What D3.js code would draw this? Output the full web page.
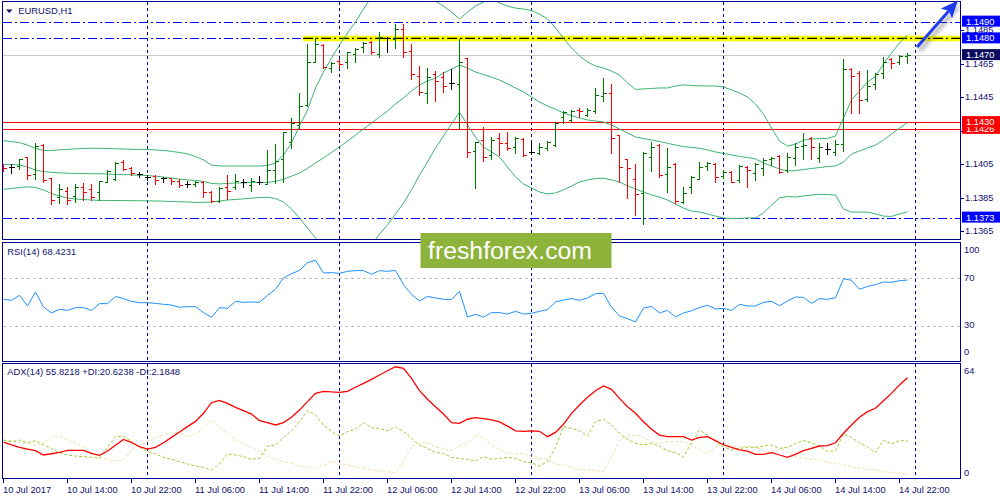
<!DOCTYPE html>
<html><head><meta charset="utf-8">
<script src="https://cdn.jsdelivr.net/npm/d3@7"></script>
<style>
body{margin:0;background:#fff}
svg text{font-family:"Liberation Sans",Arial,sans-serif}
</style>
</head><body>
<svg id="c" width="1000" height="500"></svg>
<script>
// ---------- DATA (EURUSD H1, first bar 10 Jul 2017 06:00) ----------
const symbol = "EURUSD,H1";
const firstBarHour = 6;
const open = [1.14047,1.14030,1.14038,1.14089,1.13990,1.14163,1.13965,1.13851,1.13889,1.13859,
1.13911,1.13901,1.13885,1.13944,1.13959,1.14064,1.14024,1.13990,1.13971,1.13980,
1.13966,1.13965,1.13950,1.13931,1.13929,1.13944,1.13885,1.13829,1.13911,1.13911,
1.13941,1.13925,1.13944,1.13931,1.14014,1.14078,1.14180,1.14283,1.14402,1.14661,
1.14760,1.14625,1.14665,1.14657,1.14705,1.14750,1.14780,1.14705,1.14804,1.14796,
1.14856,1.14725,1.14577,1.14476,1.14585,1.14571,1.14532,1.14528,1.14681,1.14128,
1.14193,1.14104,1.14203,1.14177,1.14150,1.14199,1.14123,1.14114,1.14144,1.14161,
1.14332,1.14313,1.14372,1.14342,1.14366,1.14456,1.14472,1.14223,1.14078,1.13959,
1.13879,1.14090,1.14163,1.13990,1.14050,1.13825,1.13911,1.13962,1.14038,1.14048,
1.13978,1.14004,1.13955,1.14034,1.13998,1.14024,1.14080,1.14100,1.14014,1.14084,
1.14157,1.14203,1.14084,1.14138,1.14122,1.14169,1.14615,1.14592,1.14436,1.14526,
1.14592,1.14675,1.14661,1.14692];
const high = [1.14050,1.14048,1.14082,1.14090,1.14173,1.14167,1.13968,1.13931,1.13911,1.13931,
1.13935,1.13931,1.13951,1.14014,1.14060,1.14074,1.14030,1.14000,1.13985,1.13985,
1.13971,1.13968,1.13959,1.13949,1.13949,1.13950,1.13891,1.13911,1.13985,1.13990,
1.13959,1.13965,1.13980,1.14134,1.14168,1.14243,1.14323,1.14472,1.14764,1.14800,
1.14764,1.14657,1.14675,1.14720,1.14741,1.14780,1.14784,1.14836,1.14810,1.14884,
1.14884,1.14764,1.14637,1.14625,1.14605,1.14601,1.14617,1.14795,1.14685,1.14183,
1.14269,1.14209,1.14237,1.14243,1.14209,1.14203,1.14193,1.14177,1.14189,1.14303,
1.14366,1.14372,1.14382,1.14382,1.14502,1.14561,1.14528,1.14223,1.14078,1.14050,
1.14123,1.14183,1.14169,1.14144,1.14054,1.13911,1.13978,1.14060,1.14064,1.14054,
1.14014,1.14010,1.14044,1.14038,1.14058,1.14084,1.14094,1.14104,1.14118,1.14174,
1.14237,1.14209,1.14174,1.14174,1.14193,1.14675,1.14621,1.14607,1.14611,1.14592,
1.14691,1.14681,1.14701,1.14714];
const low = [1.14008,1.13998,1.14018,1.13959,1.13959,1.13944,1.13809,1.13819,1.13809,1.13825,
1.13835,1.13835,1.13835,1.13941,1.13955,1.14014,1.13985,1.13970,1.13955,1.13931,
1.13944,1.13931,1.13911,1.13915,1.13920,1.13855,1.13821,1.13825,1.13840,1.13899,
1.13911,1.13889,1.13929,1.13929,1.13935,1.13944,1.14144,1.14263,1.14398,1.14657,
1.14625,1.14601,1.14621,1.14621,1.14661,1.14717,1.14705,1.14691,1.14720,1.14744,
1.14691,1.14557,1.14462,1.14412,1.14426,1.14482,1.14498,1.14263,1.14091,1.13908,
1.14069,1.14078,1.14104,1.14134,1.14118,1.14098,1.14110,1.14108,1.14134,1.14157,
1.14293,1.14309,1.14332,1.14336,1.14356,1.14426,1.14118,1.13944,1.13849,1.13746,
1.13692,1.14010,1.13971,1.13885,1.13819,1.13819,1.13879,1.13959,1.14014,1.13944,
1.13965,1.13941,1.13944,1.13911,1.13955,1.13985,1.14044,1.13998,1.14004,1.14044,
1.14078,1.14078,1.14064,1.14110,1.14104,1.14129,1.14353,1.14353,1.14428,1.14496,
1.14562,1.14621,1.14647,1.14655];
const close = [1.14026,1.14030,1.14080,1.13985,1.14157,1.13955,1.13835,1.13901,1.13835,1.13911,
1.13885,1.13851,1.13949,1.14008,1.14054,1.14018,1.13994,1.13990,1.13971,1.13955,
1.13966,1.13949,1.13925,1.13931,1.13944,1.13885,1.13829,1.13905,1.13889,1.13949,
1.13941,1.13950,1.13944,1.14014,1.14070,1.14243,1.14293,1.14398,1.14661,1.14764,
1.14631,1.14655,1.14645,1.14717,1.14735,1.14771,1.14717,1.14810,1.14804,1.14856,
1.14717,1.14585,1.14482,1.14571,1.14546,1.14517,1.14532,1.14659,1.14123,1.14183,
1.14092,1.14193,1.14177,1.14144,1.14203,1.14104,1.14123,1.14150,1.14183,1.14297,
1.14358,1.14368,1.14366,1.14372,1.14462,1.14474,1.14203,1.14030,1.14024,1.13871,
1.14114,1.14150,1.13985,1.14030,1.13829,1.13879,1.13971,1.14030,1.14058,1.13974,
1.14002,1.13944,1.14040,1.14014,1.14050,1.14074,1.14088,1.14004,1.14094,1.14150,
1.14163,1.14150,1.14150,1.14138,1.14170,1.14615,1.14575,1.14432,1.14516,1.14587,
1.14661,1.14655,1.14695,1.14700];

// Bollinger Bands
const bbUpper = [1.14189,1.14184,1.14178,1.14163,1.14143,1.14131,1.14131,1.14134,1.14137,1.14140,
1.14143,1.14144,1.14144,1.14143,1.14141,1.14140,1.14138,1.14137,1.14137,1.14134,
1.14131,1.14125,1.14119,1.14110,1.14095,1.14074,1.14044,1.14038,1.14038,1.14038,
1.14038,1.14038,1.14038,1.14041,1.14056,1.14104,1.14175,1.14277,1.14372,1.14504,
1.14599,1.14683,1.14760,1.14832,1.14898,1.14975,1.15047,1.15029,1.15047,1.15065,
1.15071,1.15077,1.15059,1.15041,1.15023,1.14993,1.14957,1.14916,1.14957,1.14993,
1.15017,1.15041,1.15011,1.14993,1.14981,1.14975,1.14966,1.14945,1.14916,1.14862,
1.14802,1.14743,1.14695,1.14659,1.14635,1.14623,1.14605,1.14581,1.14534,1.14495,
1.14498,1.14501,1.14504,1.14504,1.14516,1.14522,1.14519,1.14516,1.14516,1.14516,
1.14510,1.14492,1.14474,1.14450,1.14408,1.14348,1.14265,1.14187,1.14157,1.14169,
1.14193,1.14199,1.14202,1.14203,1.14217,1.14325,1.14432,1.14486,1.14539,1.14575,
1.14647,1.14713,1.14772,1.14820];
const bbMiddle = [1.14048,1.14047,1.14044,1.14032,1.14014,1.14005,1.14000,1.13997,1.13995,1.13994,
1.13993,1.13992,1.13992,1.13990,1.13988,1.13987,1.13985,1.13983,1.13981,1.13977,
1.13972,1.13966,1.13960,1.13955,1.13952,1.13946,1.13934,1.13931,1.13934,1.13937,
1.13937,1.13940,1.13940,1.13940,1.13946,1.13958,1.13978,1.13996,1.14024,1.14056,
1.14086,1.14119,1.14152,1.14187,1.14223,1.14259,1.14295,1.14331,1.14366,1.14408,
1.14444,1.14486,1.14522,1.14546,1.14563,1.14593,1.14617,1.14641,1.14623,1.14599,
1.14584,1.14569,1.14551,1.14528,1.14504,1.14480,1.14450,1.14420,1.14396,1.14378,
1.14354,1.14339,1.14325,1.14313,1.14307,1.14301,1.14283,1.14259,1.14235,1.14211,
1.14202,1.14193,1.14184,1.14174,1.14163,1.14154,1.14149,1.14144,1.14134,1.14122,
1.14113,1.14104,1.14095,1.14089,1.14080,1.14056,1.14038,1.14020,1.14008,1.14011,
1.14017,1.14023,1.14029,1.14035,1.14038,1.14062,1.14110,1.14128,1.14146,1.14163,
1.14193,1.14229,1.14265,1.14297];
const bbLower = [1.13899,1.13904,1.13910,1.13914,1.13910,1.13895,1.13874,1.13859,1.13847,1.13841,
1.13838,1.13835,1.13833,1.13832,1.13832,1.13832,1.13831,1.13831,1.13830,1.13829,
1.13828,1.13826,1.13825,1.13823,1.13821,1.13821,1.13823,1.13829,1.13835,1.13838,
1.13842,1.13846,1.13850,1.13851,1.13844,1.13823,1.13781,1.13728,1.13668,1.13608,
1.13572,1.13554,1.13542,1.13542,1.13548,1.13542,1.13566,1.13632,1.13686,1.13752,
1.13817,1.13895,1.13984,1.14062,1.14146,1.14217,1.14289,1.14360,1.14283,1.14211,
1.14152,1.14122,1.14092,1.14032,1.13973,1.13931,1.13907,1.13883,1.13871,1.13877,
1.13895,1.13919,1.13943,1.13955,1.13963,1.13965,1.13955,1.13943,1.13919,1.13901,
1.13883,1.13865,1.13853,1.13835,1.13811,1.13787,1.13769,1.13763,1.13752,1.13739,
1.13728,1.13725,1.13725,1.13728,1.13728,1.13758,1.13805,1.13847,1.13856,1.13853,
1.13859,1.13865,1.13868,1.13868,1.13865,1.13781,1.13763,1.13763,1.13763,1.13752,
1.13739,1.13737,1.13752,1.13765];

const rsi = [52.1,51.3,55.5,46.5,58.3,45.6,40.6,43.7,42.8,45.1,
45.1,42.8,48.5,48.5,54.6,52.7,50.4,49.3,49.3,48.7,
47.9,47.3,45.4,45.9,45.9,40.9,36.9,45.1,44.5,50.4,
49.6,49.9,49.6,55.5,60.6,70.2,73.8,76.6,83.1,85.1,
74.4,74.7,74.1,75.8,76.4,76.4,73.3,76.4,75.8,76.6,
64.5,56.4,50.7,54.6,53.3,52.1,52.1,58.9,37.2,39.4,
37.2,40.9,40.9,39.7,42.0,39.7,40.3,42.0,43.4,49.9,
51.6,52.7,51.3,53.3,56.9,57.2,45.4,38.0,35.8,33.0,
44.8,46.2,40.6,42.8,37.2,40.6,42.5,45.1,47.1,44.0,
44.5,42.8,47.9,46.5,46.5,49.6,50.4,46.8,50.7,54.1,
53.8,48.7,52.7,52.1,53.5,69.6,68.2,60.6,63.1,64.5,
66.8,66.5,67.9,68.4231];
const rsiLevels = [70, 30];
const rsiAxis = [100, 70, 30, 0];

const adx = [20.0,18.4,17.1,16.1,15.2,12.8,13.5,14.3,15.4,15.4,
15.4,13.7,12.6,15.0,18.2,21.5,19.8,17.4,16.1,17.1,
19.6,22.6,25.6,28.6,31.5,36.0,41.9,43.2,41.5,39.3,
37.5,35.6,31.9,30.8,29.5,30.8,33.8,37.8,42.5,47.1,
48.2,47.9,47.7,48.2,50.5,52.7,54.9,57.3,59.7,61.9,
61.0,55.5,48.6,43.8,39.7,35.6,30.8,30.4,32.7,33.6,
33.0,32.3,31.2,28.9,26.2,26.0,26.2,26.0,23.0,25.4,
29.9,36.0,40.6,44.9,48.6,51.2,49.3,44.3,39.7,36.0,
31.3,27.1,23.9,23.0,23.0,23.0,21.1,22.6,23.0,20.8,
18.5,17.1,15.6,15.0,13.2,13.2,14.1,12.8,11.5,13.2,
15.2,16.5,17.8,18.0,19.6,24.9,29.5,33.8,36.9,38.8,
43.0,47.1,51.8,55.8218];
const plusDI = [21.1,20.2,21.1,19.6,20.8,18.4,16.5,14.1,12.8,12.2,
11.9,11.5,10.9,17.1,23.0,23.4,20.2,17.1,14.7,13.4,
11.5,10.4,9.1,7.8,6.7,5.9,4.5,7.8,13.4,12.8,
11.9,10.4,10.9,17.8,18.4,22.6,26.3,31.3,37.5,35.1,
29.5,25.8,23.4,25.8,27.1,30.8,28.0,27.6,26.2,28.6,
25.8,22.1,18.4,16.5,14.1,13.7,11.5,10.9,10.4,9.5,
11.9,10.4,10.9,11.5,10.9,9.1,8.5,6.7,9.1,17.1,
28.6,27.6,26.3,23.4,31.3,32.7,29.5,24.9,21.5,19.3,
18.4,19.3,17.8,15.2,14.1,11.9,19.6,26.7,23.9,20.2,
17.4,15.6,16.5,17.1,17.1,17.8,18.4,16.5,17.1,19.3,
20.8,19.6,17.8,14.7,15.2,24.5,22.6,19.6,17.1,14.1,
21.1,18.9,20.8,20.6238];
const minusDI = [21.1,20.8,19.6,19.6,17.8,19.3,23.0,23.4,20.8,19.6,
17.1,13.7,11.5,10.4,9.6,10.0,15.6,18.4,20.2,22.6,
23.9,25.2,25.2,22.6,24.5,27.6,32.3,28.6,24.5,21.5,
18.9,17.1,14.7,12.2,10.4,9.1,8.2,6.7,5.9,5.4,
7.2,9.1,8.5,7.2,6.3,5.4,4.5,4.1,3.5,3.0,
9.1,17.4,19.6,19.6,17.1,16.5,15.2,17.8,19.3,23.9,
22.1,18.4,16.0,13.7,13.4,13.7,12.2,10.9,10.4,7.8,
7.2,5.9,4.8,4.5,4.1,3.5,11.9,20.8,23.4,23.9,
22.6,20.2,19.3,20.2,20.2,20.2,18.4,15.6,13.4,17.1,
19.6,17.8,17.4,17.8,17.1,15.2,14.1,16.0,14.7,11.9,
10.9,10.4,10.4,8.5,8.2,7.2,6.3,5.4,4.8,4.5,
3.5,3.0,2.6,2.1848];
const adxAxis = [64, 0];

const timeLabels = ["10 Jul 2017","10 Jul 14:00","10 Jul 22:00","11 Jul 06:00","11 Jul 14:00",
"11 Jul 22:00","12 Jul 06:00","12 Jul 14:00","12 Jul 22:00","13 Jul 06:00","13 Jul 14:00",
"13 Jul 22:00","14 Jul 06:00","14 Jul 14:00","14 Jul 22:00"];
const timeLabelStep = 8;
const priceTicks = [1.1365,1.1385,1.1405,1.1425,1.1445,1.1465,1.1485];
const levelLines = [
  {price:1.1490, color:"#0000ff", dash:"9,3,2,3"},
  {price:1.1480, color:"#0000ff", dash:"9,3,2,3"},
  {price:1.1373, color:"#0000ff", dash:"9,3,2,3"},
  {price:1.1426, color:"#ff0000", dash:null},
  {price:1.1430, color:"#ff0000", dash:null}
];
const highlight = {price:1.1480, fromBar:37.45};
const arrow = {fromBar:114.2, fromPrice:1.14748, toBar:119.1, toPrice:1.15015};
const watermark = "freshforex.com";

// ---------- LAYOUT ----------
const svg = d3.select("#c");
const L = 2.5, R = 960.5;
const P = {main:[1.5,239.5], rsi:[242.5,361.5], adx:[363.5,478.5]};
const navy = "#00008c", txt = "#101070";
const n = close.length;

const x = d3.scaleLinear().domain([0, n-1]).range([3.5, 907.5]);
const yM = d3.scaleLinear().domain([1.135963, 1.150172]).range([240, 2]);
const yR = d3.scaleLinear().domain([0,100]).range([361, 242.7]);
const yA = d3.scaleLinear().domain([0,64]).range([478, 363]);

const defs = svg.append("defs");
Object.entries(P).forEach(([k,[t,b]]) => {
  defs.append("clipPath").attr("id","clip-"+k).append("rect")
    .attr("x",L).attr("y",t).attr("width",R-L).attr("height",b-t);
});
const blur = defs.append("filter").attr("id","blur").attr("x","-20%").attr("y","-200%").attr("width","140%").attr("height","500%");
blur.append("feGaussianBlur").attr("stdDeviation",2);
const mk = defs.append("marker").attr("id","ah").attr("markerUnits","userSpaceOnUse")
  .attr("markerWidth",20).attr("markerHeight",16).attr("refX",15).attr("refY",7.5).attr("orient","auto");
mk.append("path").attr("d","M0,0L17,7.5L0,15L4,7.5Z").attr("fill","#1d3cf2");

// day boundaries for vertical grid
const dayIdx = d3.range(n+1).filter(i => (firstBarHour + i) % 24 === 0);

function panel(k){
  const g = svg.append("g");
  const inner = g.append("g").attr("clip-path","url(#clip-"+k+")");
  const [t,b] = P[k];
  inner.selectAll("line.vg").data(dayIdx).join("line")
    .attr("x1",d=>x(d)).attr("x2",d=>x(d)).attr("y1",t).attr("y2",b)
    .attr("stroke",navy).attr("stroke-width",1).attr("stroke-dasharray","3,3")
    .attr("shape-rendering","crispEdges");
  return {g, inner, t, b};
}

// ---------- MAIN ----------
const M = panel("main");
M.inner.selectAll("line.lv").data(levelLines).join("line")
  .attr("x1",L).attr("x2",R).attr("y1",d=>Math.round(yM(d.price))+0.5).attr("y2",d=>Math.round(yM(d.price))+0.5)
  .attr("stroke",d=>d.color).attr("stroke-width",d=>d.dash?1:1.4)
  .attr("stroke-dasharray",d=>d.dash).attr("shape-rendering","crispEdges");
const bid = close[n-1];
M.inner.append("line").attr("x1",L).attr("x2",R)
  .attr("y1",Math.round(yM(bid))+0.5).attr("y2",Math.round(yM(bid))+0.5)
  .attr("stroke","#c8c8c8").attr("stroke-width",1).attr("shape-rendering","crispEdges");
const hy = yM(highlight.price);
M.inner.append("line").attr("x1",x(highlight.fromBar)).attr("x2",R+4).attr("y1",hy+4).attr("y2",hy+4)
  .attr("stroke","#666").attr("stroke-width",6).attr("opacity",0.55).attr("filter","url(#blur)");
M.inner.append("line").attr("x1",x(highlight.fromBar)).attr("x2",R).attr("y1",hy).attr("y2",hy)
  .attr("stroke","#ffff00").attr("stroke-width",5.5);
M.inner.append("line").attr("x1",x(highlight.fromBar)).attr("x2",R).attr("y1",hy).attr("y2",hy)
  .attr("stroke","#000").attr("stroke-width",1.3).attr("stroke-dasharray","10,3,2,3");
const lineM = d3.line().x((d,i)=>x(i)).y(d=>yM(d));
[bbUpper,bbMiddle,bbLower].forEach(arr => {
  M.inner.append("path").attr("d",lineM(arr)).attr("fill","none")
    .attr("stroke","#3cb371").attr("stroke-width",1);
});
M.inner.selectAll("path.bar").data(d3.range(n)).join("path")
  .attr("d", i => {
    const cx = x(i);
    const yo = Math.round(yM(open[i]))+0.5, yc = Math.round(yM(close[i]))+0.5;
    const yh = Math.round(yM(high[i])), yl = Math.round(yM(low[i]))+1;
    return `M${cx},${yh}V${yl}M${cx-3},${yo}H${cx}M${cx},${yc}H${cx+3}`;
  })
  .attr("fill","none").attr("stroke-width",1).attr("shape-rendering","crispEdges")
  .attr("stroke", i => close[i]>open[i] ? "#007800" : close[i]<open[i] ? "#ff0000" : "#000000");
M.g.append("rect").attr("x",L).attr("y",P.main[0]).attr("width",R-L).attr("height",P.main[1]-P.main[0])
  .attr("fill","none").attr("stroke",navy).attr("stroke-width",1).attr("shape-rendering","crispEdges");
M.g.append("path").attr("d","M6,9.5H12.5L9.25,13Z").attr("fill",txt);
M.g.append("text").attr("x",18.3).attr("y",14.2).attr("font-size",9.4).attr("fill",txt).text(symbol);

// right price axis
const ax = svg.append("g");
ax.selectAll("line.pt").data(priceTicks).join("line")
  .attr("x1",R).attr("x2",R+3).attr("y1",d=>Math.round(yM(d))+0.5).attr("y2",d=>Math.round(yM(d))+0.5)
  .attr("stroke",navy).attr("shape-rendering","crispEdges");
ax.selectAll("text.pt").data(priceTicks).join("text")
  .attr("x",965).attr("y",d=>yM(d)+3.3).attr("font-size",9.3).attr("fill",txt).text(d=>d.toFixed(4));
function priceBox(price, fill){
  const yc = yM(price);
  ax.append("rect").attr("x",962).attr("y",yc-6).attr("width",38).attr("height",11).attr("fill",fill);
  ax.append("text").attr("x",966).attr("y",yc+3).attr("font-size",9.3).attr("fill","#fff").text(price.toFixed(4));
}
levelLines.forEach(d => priceBox(d.price, d.color));
priceBox(bid, "#0c0c5e");

// arrow
const ax1 = x(arrow.fromBar), ay1 = yM(arrow.fromPrice), ax2 = x(arrow.toBar), ay2 = yM(arrow.toPrice);
svg.append("line").attr("x1",ax1+2).attr("y1",ay1+4).attr("x2",ax2+2).attr("y2",ay2+4)
  .attr("stroke","#555").attr("stroke-width",4).attr("opacity",0.45).attr("filter","url(#blur)");
svg.append("line").attr("x1",ax1).attr("y1",ay1).attr("x2",ax2).attr("y2",ay2)
  .attr("stroke","#1d3cf2").attr("stroke-width",3).attr("marker-end","url(#ah)");

// ---------- RSI ----------
const Rp = panel("rsi");
Rp.inner.selectAll("line.lvl").data(rsiLevels).join("line")
  .attr("x1",L).attr("x2",R).attr("y1",d=>Math.round(yR(d))+0.5).attr("y2",d=>Math.round(yR(d))+0.5)
  .attr("stroke","#c0c0c0").attr("stroke-dasharray","3,3").attr("shape-rendering","crispEdges");
Rp.inner.append("path").attr("d", d3.line().x((d,i)=>x(i)).y(d=>yR(d))(rsi))
  .attr("fill","none").attr("stroke","#1e90ff").attr("stroke-width",1);
Rp.g.append("rect").attr("x",L).attr("y",P.rsi[0]).attr("width",R-L).attr("height",P.rsi[1]-P.rsi[0])
  .attr("fill","none").attr("stroke",navy).attr("shape-rendering","crispEdges");
Rp.g.append("text").attr("x",7.3).attr("y",254.6).attr("font-size",9.4).attr("fill",txt)
  .text("RSI(14) " + rsi[n-1].toFixed(4));
Rp.g.selectAll("text.ax").data(rsiAxis).join("text")
  .attr("x",964).attr("font-size",9.3).attr("fill",txt)
  .attr("y",d=> d===100 ? yR(d)+10.5 : d===0 ? yR(d)-6 : yR(d)+2.5).text(d=>d);

// ---------- ADX ----------
const Ap = panel("adx");
const lineA = d3.line().x((d,i)=>x(i)).y(d=>yA(d));
Ap.inner.append("path").attr("d",lineA(minusDI)).attr("fill","none")
  .attr("stroke","#f5d9aa").attr("stroke-width",1).attr("stroke-dasharray","3,2");
Ap.inner.append("path").attr("d",lineA(plusDI)).attr("fill","none")
  .attr("stroke","#9acd32").attr("stroke-width",1).attr("stroke-dasharray","3,2");
Ap.inner.append("path").attr("d",lineA(adx)).attr("fill","none")
  .attr("stroke","#ff0000").attr("stroke-width",1.3);
Ap.g.append("rect").attr("x",L).attr("y",P.adx[0]).attr("width",R-L).attr("height",P.adx[1]-P.adx[0])
  .attr("fill","none").attr("stroke",navy).attr("shape-rendering","crispEdges");
Ap.g.append("text").attr("x",7.3).attr("y",375).attr("font-size",9.4).attr("fill",txt)
  .text(`ADX(14) ${adx[n-1].toFixed(4)} +DI:${plusDI[n-1].toFixed(4)} -DI:${minusDI[n-1].toFixed(4)}`);
Ap.g.selectAll("text.ax").data(adxAxis).join("text")
  .attr("x",964).attr("font-size",9.3).attr("fill",txt)
  .attr("y",d=> d===0 ? yA(d)-2.5 : yA(d)+10.5).text(d=>d);

// ---------- TIME AXIS ----------
const tg = svg.append("g");
tg.selectAll("line").data(timeLabels).join("line")
  .attr("x1",(d,k)=>x(k*timeLabelStep)).attr("x2",(d,k)=>x(k*timeLabelStep))
  .attr("y1",P.adx[1]).attr("y2",P.adx[1]+4).attr("stroke",navy).attr("shape-rendering","crispEdges");
tg.selectAll("text").data(timeLabels).join("text")
  .attr("x",(d,k)=>x(k*timeLabelStep)-0.5).attr("y",492.5).attr("font-size",9.3).attr("fill",txt).text(d=>d);

// ---------- WATERMARK ----------
svg.append("rect").attr("x",420.5).attr("y",233).attr("width",191).attr("height",35).attr("fill","#8db33b");
svg.append("text").attr("x",428).attr("y",259).attr("font-size",24.8)
  .attr("font-family","'Open Sans',sans-serif").attr("fill","#fff").text(watermark);
</script>
</body></html>
